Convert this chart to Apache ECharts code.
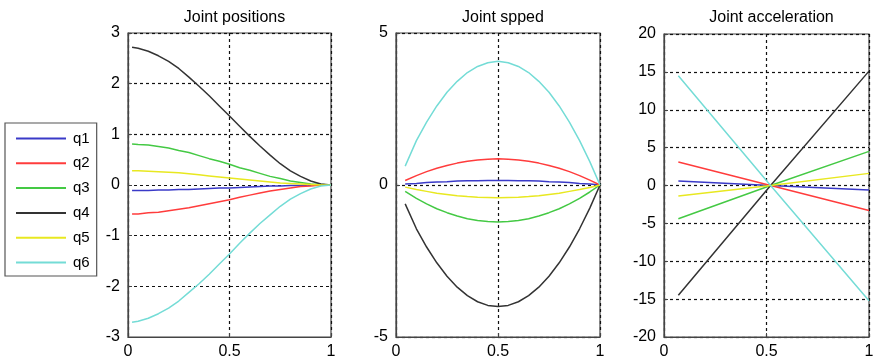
<!DOCTYPE html>
<html>
<head>
<meta charset="utf-8">
<script src="https://cdn.jsdelivr.net/npm/echarts@6/dist/echarts.min.js"></script>
<style>
  html, body { margin: 0; padding: 0; background: #fff; }
  #chart { width: 877px; height: 364px; }
</style>
</head>
<body>
<div id="chart"></div>
<script>
// series names and colours
const names = ['q1', 'q2', 'q3', 'q4', 'q5', 'q6'];
const colors = ['#3a3ac8', '#ff3c3c', '#44c944', '#333333', '#e8e820', '#74dcd6'];

// time samples per panel
const tPos = [0.02, 0.05, 0.1, 0.15, 0.2, 0.25, 0.3, 0.35, 0.4, 0.45, 0.5, 0.55, 0.6, 0.65, 0.7, 0.75, 0.8, 0.85, 0.9, 0.95, 1];
const tVel = [0.045, 0.1, 0.15, 0.2, 0.25, 0.3, 0.35, 0.4, 0.45, 0.5, 0.55, 0.6, 0.65, 0.7, 0.75, 0.8, 0.85, 0.9, 0.95, 1];
const tAcc = [0.07, 0.52, 1];

// joint positions
const posQ1 = [-0.11, -0.11, -0.11, -0.10, -0.10, -0.09, -0.09, -0.08, -0.07, -0.06, -0.06, -0.05, -0.04, -0.03, -0.02, -0.02, -0.01, -0.01, 0, 0, 0];
const posQ2 = [-0.57, -0.57, -0.55, -0.54, -0.51, -0.48, -0.45, -0.41, -0.37, -0.33, -0.29, -0.24, -0.20, -0.16, -0.12, -0.09, -0.06, -0.03, -0.02, 0, 0];
const posQ3 = [0.81, 0.80, 0.79, 0.76, 0.73, 0.68, 0.64, 0.58, 0.52, 0.47, 0.41, 0.34, 0.29, 0.23, 0.17, 0.13, 0.08, 0.05, 0.02, 0.01, 0];
const posQ4 = [2.72, 2.70, 2.64, 2.55, 2.44, 2.30, 2.13, 1.95, 1.76, 1.56, 1.36, 1.16, 0.96, 0.77, 0.59, 0.42, 0.28, 0.17, 0.08, 0.02, 0];
const posQ5 = [0.28, 0.28, 0.27, 0.26, 0.25, 0.24, 0.22, 0.20, 0.18, 0.16, 0.14, 0.12, 0.10, 0.08, 0.06, 0.04, 0.03, 0.02, 0.01, 0, 0];
const posQ6 = [-2.71, -2.69, -2.63, -2.54, -2.43, -2.29, -2.12, -1.95, -1.76, -1.56, -1.36, -1.15, -0.95, -0.76, -0.59, -0.42, -0.28, -0.17, -0.08, -0.02, 0];

// joint speed
const velQ1 = [0.03, 0.05, 0.08, 0.10, 0.11, 0.13, 0.14, 0.14, 0.15, 0.15, 0.15, 0.14, 0.14, 0.13, 0.11, 0.10, 0.08, 0.05, 0.03, 0];
const velQ2 = [0.15, 0.31, 0.44, 0.55, 0.64, 0.72, 0.78, 0.82, 0.85, 0.86, 0.85, 0.82, 0.78, 0.72, 0.64, 0.55, 0.44, 0.31, 0.16, 0];
const velQ3 = [-0.21, -0.44, -0.62, -0.78, -0.91, -1.02, -1.11, -1.17, -1.20, -1.22, -1.20, -1.17, -1.11, -1.02, -0.91, -0.78, -0.62, -0.44, -0.23, 0];
const velQ4 = [-0.62, -1.44, -2.04, -2.56, -3.00, -3.36, -3.64, -3.84, -3.96, -4.0, -3.96, -3.84, -3.64, -3.36, -3.00, -2.56, -2.04, -1.44, -0.76, 0];
const velQ5 = [-0.07, -0.15, -0.21, -0.27, -0.31, -0.35, -0.38, -0.40, -0.41, -0.42, -0.41, -0.40, -0.38, -0.35, -0.31, -0.27, -0.21, -0.15, -0.08, 0];
const velQ6 = [0.62, 1.46, 2.07, 2.60, 3.05, 3.41, 3.70, 3.90, 4.02, 4.07, 4.02, 3.90, 3.70, 3.41, 3.05, 2.60, 2.07, 1.46, 0.77, 0];

// joint acceleration
const accQ1 = [0.6, 0, -0.6];
const accQ2 = [3.1, 0, -3.3];
const accQ3 = [-4.4, 0, 4.5];
const accQ4 = [-14.5, 0, 15.1];
const accQ5 = [-1.4, 0, 1.6];
const accQ6 = [14.5, 0, -15.2];

// tick labels
const xTicks = [0, 0.5, 1];
const titles = ['Joint positions', 'Joint spped', 'Joint acceleration'];

const panels = [
  { t: tPos, rows: [posQ1, posQ2, posQ3, posQ4, posQ5, posQ6], min: -3, max: 3, step: 1 },
  { t: tVel, rows: [velQ1, velQ2, velQ3, velQ4, velQ5, velQ6], min: -5, max: 5, step: 5 },
  { t: tAcc, rows: [accQ1, accQ2, accQ3, accQ4, accQ5, accQ6], min: -20, max: 20, step: 5 }
];

const grids = [
  { left: 128, top: 33, width: 203, height: 304 },
  { left: 396, top: 33, width: 204, height: 304 },
  { left: 664, top: 34, width: 205, height: 303 }
];

const font = 'Liberation Sans, Arial, sans-serif';
const dashed = { show: true, lineStyle: { color: '#111', type: [3, 3], width: 1.2 } };

const chart = echarts.init(document.getElementById('chart'));

const series = [];
panels.forEach((p, gi) => {
  p.rows.forEach((row, si) => {
    series.push({
      name: names[si],
      type: 'line',
      xAxisIndex: gi,
      yAxisIndex: gi,
      symbol: 'none',
      animation: false,
      lineStyle: { color: colors[si], width: 1.5 },
      itemStyle: { color: colors[si] },
      data: row.map((v, i) => [p.t[i], v])
    });
  });
});

chart.setOption({
  backgroundColor: '#fff',
  title: titles.map((txt, i) => ({
    text: txt,
    left: grids[i].left + grids[i].width / 2,
    top: 5,
    textAlign: 'center',
    textStyle: { fontFamily: font, fontSize: 16, fontWeight: 'normal', color: '#000' }
  })),
  legend: {
    data: names,
    orient: 'vertical',
    left: 5,
    top: 123,
    padding: [8, 7, 6, 10],
    itemWidth: 50,
    itemHeight: 14,
    itemGap: 9.8,
    borderColor: '#555',
    borderWidth: 1.2,
    itemStyle: { opacity: 0 },
    textStyle: { fontFamily: font, fontSize: 15, color: '#000', padding: [0, 0, 0, 2] }
  },
  grid: grids.map(g => Object.assign({ show: true, borderColor: '#444', borderWidth: 1.2, backgroundColor: '#fff' }, g)),
  xAxis: grids.map((g, i) => ({
    type: 'value',
    gridIndex: i,
    min: 0,
    max: 1,
    interval: 0.5,
    axisLine: { show: true, onZero: false, lineStyle: { color: '#444', width: 1.2 } },
    axisTick: { show: true, inside: true, length: 4, lineStyle: { color: '#444' } },
    axisLabel: {
      fontFamily: font, fontSize: 16, color: '#000', margin: 7,
      formatter: v => xTicks.includes(v) ? String(v) : ''
    },
    splitLine: dashed
  })),
  yAxis: panels.map((p, i) => ({
    type: 'value',
    gridIndex: i,
    min: p.min,
    max: p.max,
    interval: p.step,
    axisLine: { show: true, onZero: false, lineStyle: { color: '#444', width: 1.2 } },
    axisTick: { show: true, inside: true, length: 4, lineStyle: { color: '#444' } },
    axisLabel: { fontFamily: font, fontSize: 16, color: '#000', margin: 8 },
    splitLine: dashed
  })),
  series: series
});
</script>
</body>
</html>
